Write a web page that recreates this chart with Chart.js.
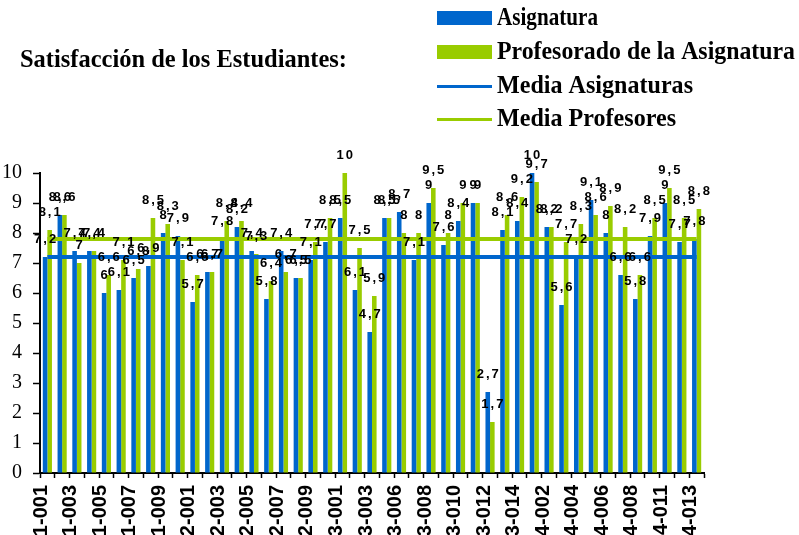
<!DOCTYPE html>
<html>
<head>
<meta charset="utf-8">
<script src="https://cdn.jsdelivr.net/npm/chart.js@4/dist/chart.umd.min.js"></script>
<style>
  html, body { margin: 0; padding: 0; background: #fff; overflow: hidden; }
  canvas { display: block; }
</style>
</head>
<body>
<canvas id="chart" width="799" height="535"></canvas>
<script>
// categories (only every other one is labelled on the axis)
const categorias = [
    "1-001", "1-002", "1-003", "1-004", "1-005", "1-006", "1-007", "1-008", "1-009", "1-010",
    "2-001", "2-002", "2-003", "2-004", "2-005", "2-006", "2-007", "2-008", "2-009", "2-010",
    "3-001", "3-002", "3-003", "3-005", "3-006", "3-007", "3-008", "3-009", "3-010", "3-011",
    "3-012", "3-013", "3-014", "4-001", "4-002", "4-003", "4-004", "4-005", "4-006", "4-007",
    "4-008", "4-010", "4-011", "4-012", "4-013"
];

const asignatura = [
    7.2, 8.6, 7.4, 7.4, 6, 6.1, 6.5, 6.9, 8, 7.9,
    5.7, 6.7, 7.8, 8.2, 7.4, 5.8, 7.4, 6.5, 7.1, 7.7,
    8.5, 6.1, 4.7, 8.5, 8.7, 7.1, 9, 7.6, 8.4, 9,
    2.7, 8.1, 8.4, 10, 8.2, 5.6, 7.2, 9.1, 8, 6.6,
    5.8, 7.9, 9, 7.7, 7.8
];

const profesorado = [
    8.1, 8.6, 7, 7.4, 6.6, 7.1, 6.8, 8.5, 8.3, 7.1,
    6.6, 6.7, 8.4, 8.4, 7.3, 6.4, 6.7, 6.5, 7.7, 8.5,
    10, 7.5, 5.9, 8.5, 8, 8, 9.5, 8, 9, 9,
    1.7, 8.6, 9.2, 9.7, 8.2, 7.7, 8.3, 8.6, 8.9, 8.2,
    6.6, 8.5, 9.5, 8.5, 8.8
];

const mediaAsignaturas = 7.2;
const mediaProfesores = 7.8;

const yTicks = [0, 1, 2, 3, 4, 5, 6, 7, 8, 9, 10];

const AZUL = "#0066cc";
const VERDE = "#99cc00";

function fmt(v) {
    return String(v).replace(".", ",");
}

// value labels above each bar
const etiquetas = {
    id: "etiquetas",
    afterDatasetsDraw(chart) {
        const ctx = chart.ctx;
        ctx.save();
        ctx.font = "bold 13px 'Liberation Sans', Arial, sans-serif";
        ctx.letterSpacing = "2px";
        ctx.fillStyle = "#000";
        ctx.textAlign = "center";
        ctx.textBaseline = "middle";
        chart.data.datasets.forEach(function (ds, di) {
            if (ds.type === "line") return;
            const meta = chart.getDatasetMeta(di);
            meta.data.forEach(function (bar, j) {
                ctx.fillText(fmt(ds.data[j]), bar.x + 1, bar.y - 18);
            });
        });
        ctx.restore();
    }
};

// rotated category labels, clipped by the bottom edge like the original
const etiquetasX = {
    id: "etiquetasX",
    afterDraw(chart) {
        const ctx = chart.ctx;
        const xs = chart.scales.x;
        ctx.save();
        ctx.font = "bold 20px 'Liberation Sans', Arial, sans-serif";
        ctx.fillStyle = "#000";
        ctx.textAlign = "right";
        ctx.textBaseline = "middle";
        categorias.forEach(function (c, i) {
            if (i % 2 !== 0) return;
            ctx.save();
            ctx.translate(xs.getPixelForValue(i) - 6, xs.top + 12);
            ctx.rotate(-Math.PI / 2);
            ctx.fillText(c, 0, 0);
            ctx.restore();
        });
        ctx.restore();
    }
};

// draw text squeezed/stretched to a given width
function textoAncho(ctx, txt, x, y, ancho, size) {
    ctx.font = "bold " + size + "px 'Liberation Serif', 'Times New Roman', serif";
    const w = ctx.measureText(txt).width;
    ctx.save();
    ctx.translate(x, y);
    ctx.scale(ancho / w, 1);
    ctx.textAlign = "left";
    ctx.textBaseline = "middle";
    ctx.fillText(txt, 0, 0);
    ctx.restore();
}

// title and legend at the top
const cabecera = {
    id: "cabecera",
    afterDraw(chart) {
        const ctx = chart.ctx;
        ctx.save();
        ctx.fillStyle = "#000";
        textoAncho(ctx, "Satisfacción de los Estudiantes:", 20, 61, 327, 25);

        ctx.fillStyle = AZUL;
        ctx.fillRect(437, 11, 55, 14);
        ctx.fillStyle = VERDE;
        ctx.fillRect(437, 45, 55, 14);
        ctx.fillStyle = AZUL;
        ctx.fillRect(437, 85, 55, 3);
        ctx.fillStyle = VERDE;
        ctx.fillRect(437, 118, 55, 3);

        ctx.fillStyle = "#000";
        textoAncho(ctx, "Asignatura", 497, 19, 101, 25);
        textoAncho(ctx, "Profesorado de la Asignatura", 497, 53, 298, 25);
        textoAncho(ctx, "Media Asignaturas", 497, 87, 196, 25);
        textoAncho(ctx, "Media Profesores", 497, 120, 179, 25);
        ctx.restore();
    }
};

new Chart(document.getElementById("chart"), {
    type: "bar",
    data: {
        labels: categorias,
        datasets: [
            {
                type: "line",
                label: "Media Asignaturas",
                data: categorias.map(() => mediaAsignaturas),
                borderColor: AZUL,
                borderWidth: 4,
                pointRadius: 0,
                fill: false,
                order: 0
            },
            {
                type: "line",
                label: "Media Profesores",
                data: categorias.map(() => mediaProfesores),
                borderColor: VERDE,
                borderWidth: 4,
                pointRadius: 0,
                fill: false,
                order: 0
            },
            {
                label: "Asignatura",
                data: asignatura,
                backgroundColor: AZUL,
                categoryPercentage: 0.62,
                barPercentage: 1,
                order: 1
            },
            {
                label: "Profesorado de la Asignatura",
                data: profesorado,
                backgroundColor: VERDE,
                categoryPercentage: 0.62,
                barPercentage: 1,
                order: 1
            }
        ]
    },
    options: {
        responsive: false,
        animation: false,
        layout: { padding: { top: 173, right: 95, left: 0, bottom: 0 } },
        plugins: {
            legend: { display: false },
            tooltip: { enabled: false }
        },
        scales: {
            x: {
                offset: true,
                afterFit: function (s) { s.height = 62; },
                border: { color: "#000", width: 2 },
                grid: {
                    offset: true,
                    drawOnChartArea: false,
                    tickLength: 5,
                    tickColor: "#000",
                    tickWidth: 1.5
                },
                ticks: { display: false }
            },
            y: {
                min: 0,
                max: 10,
                afterFit: function (s) { s.width = 40; },
                afterBuildTicks: function (s) { s.ticks = yTicks.map(v => ({ value: v })); },
                border: { color: "#000", width: 2 },
                grid: {
                    drawOnChartArea: false,
                    tickLength: 7,
                    tickColor: "#000",
                    tickWidth: 1.5
                },
                ticks: {
                    padding: 11,
                    color: "#000",
                    font: { family: "'Liberation Serif', 'Times New Roman', serif", size: 20 }
                }
            }
        }
    },
    plugins: [etiquetas, etiquetasX, cabecera]
});
</script>
</body>
</html>
